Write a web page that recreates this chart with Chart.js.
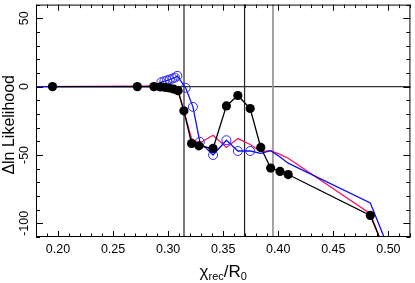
<!DOCTYPE html>
<html><head><meta charset="utf-8">
<script src="https://cdn.jsdelivr.net/npm/chart.js@4/dist/chart.umd.min.js"></script>
<style>html,body{margin:0;padding:0;background:#fff;}</style>
</head><body>
<canvas id="c" width="415" height="283"></canvas>
<script>
// ---- data ----
const blackX = [0.195, 0.272, 0.287, 0.293, 0.297, 0.301, 0.305, 0.309, 0.3143, 0.3213, 0.3279, 0.3408, 0.3529, 0.3633, 0.3745, 0.3841, 0.3931, 0.4016, 0.409, 0.4836, 0.500];
const blackY = [0, 0, 0, -0.2, -0.5, -1, -1.8, -3, -17.7, -41.6, -43.3, -45.2, -14.1, -6.5, -16, -44.5, -59.6, -62, -64.3, -94.2, -126];
const blackShown = [1,1,1,1,1,1,1,1,1,1,1,1,1,1,1,1,1,1,1,1,0];

const redX = [0.17, 0.272, 0.287, 0.294, 0.301, 0.306, 0.3098, 0.3143, 0.3213, 0.3279, 0.3408, 0.3529, 0.3633, 0.3745, 0.3841, 0.3931, 0.4016, 0.409, 0.4836, 0.500];
const redY = [0, 0.3, 0.5, 0, -0.8, -2, -5, -18, -38, -41.6, -35.6, -44.5, -38, -42.3, -47.6, -46.9, -49.6, -52.4, -93, -127];

const blueX = [0.17, 0.272, 0.287, 0.2939, 0.2966, 0.299, 0.3015, 0.304, 0.3062, 0.3083, 0.3159, 0.3225, 0.3288, 0.3408, 0.3529, 0.3633, 0.3745, 0.3841, 0.3931, 0.4016, 0.409, 0.4836, 0.500];
const blueY = [0, 0, 0, 3.3, 4, 4.6, 5.2, 6, 6.6, 7.9, -0.9, -14.8, -40.4, -50, -39.2, -47.1, -47.1, -48.8, -46.9, -51.5, -56, -85.1, -118];
const blueShown = [0,0,0,1,1,1,1,1,1,1,1,1,1,1,1,1,1,0,0,0,0,0,0];

const vLinesBlack = [0.3144, 0.3694];
const vLineGray = [0.3952];
const hLineZero = [0];

const xTickLabels = [0.20, 0.25, 0.30, 0.35, 0.40, 0.45, 0.50];
const yTickLabels = [50, 0, -50, -100];
const xRange = [0.18, 0.52];
const yRange = [-110, 60];

// ---- build datasets ----
const pts = (xs, ys) => xs.map((x, i) => ({x: x, y: ys[i]}));
const vline = v => [{x: v, y: -500}, {x: v, y: 500}];
const hline = v => [{x: -1, y: v}, {x: 2, y: v}];

const datasets = [
  {data: pts(blackX, blackY), borderColor: '#000', backgroundColor: '#000', borderWidth: 1.3,
   pointRadius: blackShown.map(s => s ? 4.6 : 0), pointBorderWidth: 0, order: 1},
  {data: pts(blueX, blueY), borderColor: '#1010f0', backgroundColor: 'rgba(0,0,0,0)', borderWidth: 1.3,
   pointRadius: blueShown.map(s => s ? 4.5 : 0), pointBorderWidth: 1, pointBorderColor: '#2a2af5', order: 2},
  {data: pts(redX, redY), borderColor: 'rgb(245,20,95)', borderWidth: 1.3, pointRadius: 0, order: 3},
];
vLinesBlack.forEach(v => datasets.push({data: vline(v), borderColor: '#222', borderWidth: 1.2, pointRadius: 0, order: 10}));
vLineGray.forEach(v => datasets.push({data: vline(v), borderColor: '#999', borderWidth: 1.8, pointRadius: 0, order: 10}));
hLineZero.forEach(v => datasets.push({data: hline(v), borderColor: '#333', borderWidth: 1.2, pointRadius: 0, order: 10}));

const FONT = '"Liberation Sans", Arial, Helvetica, sans-serif';

const framePlugin = {
  id: 'frame',
  afterDraw(chart) {
    const ctx = chart.ctx, a = chart.chartArea;
    const xs = chart.scales.x, ys = chart.scales.y;
    ctx.save();
    ctx.strokeStyle = '#000';
    ctx.lineWidth = 1;
    ctx.strokeRect(a.left + 0.5, a.top + 0.5, a.right - a.left - 1, a.bottom - a.top - 1);
    // ticks (inward, all four sides)
    ctx.beginPath();
    for (let k = Math.ceil(xRange[0] * 100); k <= Math.floor(xRange[1] * 100); k++) {
      const v = k / 100;
      const major = k % 5 === 0;
      const len = major ? 6 : 3.5;
      const px = Math.round(xs.getPixelForValue(v)) + 0.5;
      ctx.moveTo(px, a.bottom); ctx.lineTo(px, a.bottom - len);
      ctx.moveTo(px, a.top); ctx.lineTo(px, a.top + len);
    }
    for (let v = Math.ceil(yRange[0] / 10) * 10; v <= yRange[1]; v += 10) {
      const major = v % 50 === 0;
      const len = major ? 7 : 4;
      const py = Math.round(ys.getPixelForValue(v)) + 0.5;
      ctx.moveTo(a.left, py); ctx.lineTo(a.left + len, py);
      ctx.moveTo(a.right, py); ctx.lineTo(a.right - len, py);
    }
    ctx.stroke();
    // tick labels
    ctx.fillStyle = '#000';
    ctx.font = '12.5px ' + FONT;
    ctx.textAlign = 'center';
    ctx.textBaseline = 'middle';
    xTickLabels.forEach(v => {
      ctx.fillText(v.toFixed(2), xs.getPixelForValue(v), a.bottom + 13);
    });
    yTickLabels.forEach(v => {
      ctx.save();
      ctx.translate(a.left - 11, ys.getPixelForValue(v));
      ctx.rotate(-Math.PI / 2);
      ctx.fillText(String(v), 0, 0);
      ctx.restore();
    });
    // y title
    ctx.save();
    ctx.font = '16px ' + FONT;
    ctx.translate(10, (a.top + a.bottom) / 2 + 4);
    ctx.rotate(-Math.PI / 2);
    ctx.fillText('\u0394ln Likelihood', 0, 0);
    ctx.restore();
    // x title with subscripts
    const big = '17px ' + FONT, small = '11px ' + FONT;
    const parts = [['\u03c7', big, 0], ['rec', small, 3], ['/R', big, 0], ['0', small, 3]];
    let total = 0;
    parts.forEach(p => { ctx.font = p[1]; total += ctx.measureText(p[0]).width; });
    let x = (a.left + a.right) / 2 - total / 2;
    const base = 277;
    ctx.textAlign = 'left';
    ctx.textBaseline = 'alphabetic';
    parts.forEach(p => {
      ctx.font = p[1];
      ctx.fillText(p[0], x, base + p[2]);
      x += ctx.measureText(p[0]).width;
    });
    ctx.restore();
  }
};

new Chart(document.getElementById('c'), {
  type: 'line',
  data: {datasets: datasets},
  options: {
    responsive: false,
    devicePixelRatio: 1,
    animation: false,
    layout: {padding: {top: 1, right: 2, left: 0, bottom: 0}},
    plugins: {legend: {display: false}, tooltip: {enabled: false}},
    elements: {line: {tension: 0, fill: false}},
    scales: {
      x: {type: 'linear', min: xRange[0], max: xRange[1],
          grid: {display: false}, border: {display: false}, ticks: {display: false},
          afterFit: s => { s.height = 46; }},
      y: {type: 'linear', min: yRange[0], max: yRange[1],
          grid: {display: false}, border: {display: false}, ticks: {display: false},
          afterFit: s => { s.width = 36; }}
    }
  },
  plugins: [framePlugin]
});
</script>
</body></html>
